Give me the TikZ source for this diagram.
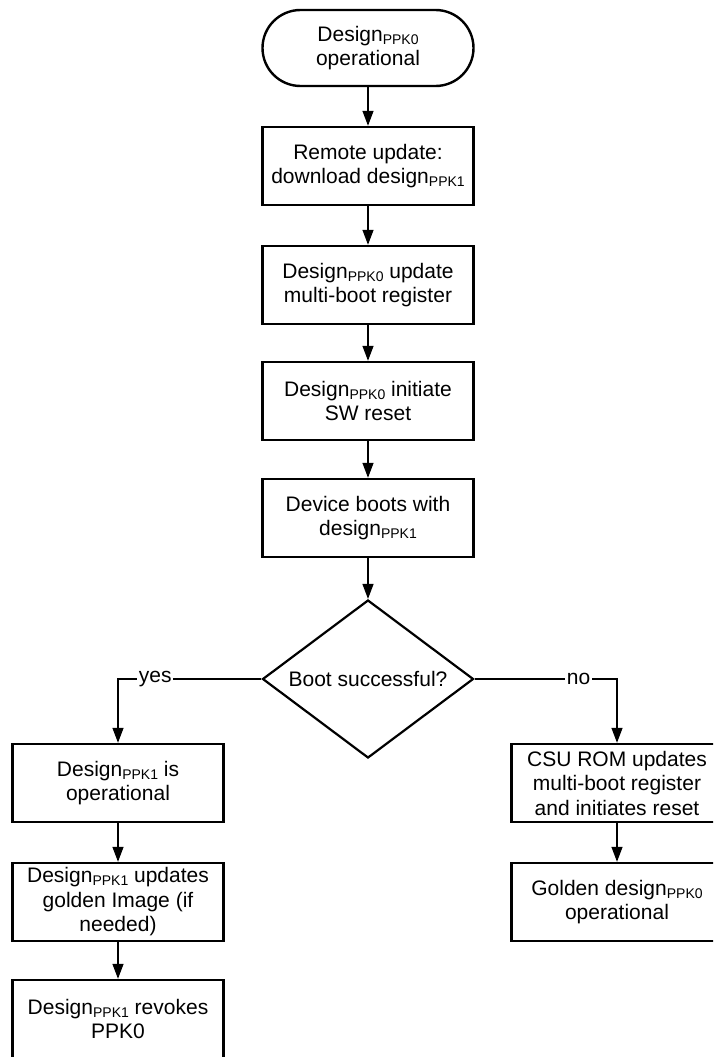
\documentclass[tikz,border=0pt]{standalone}
\usepackage{fontspec}
\setmainfont{Liberation Sans}
\usetikzlibrary{shapes.geometric,arrows.meta}
\newcommand{\ppk}[1]{\raisebox{-3pt}{\fontsize{14}{14}\selectfont PPK#1}}
\begin{document}
\begin{tikzpicture}[x=1pt,y=-1pt,
  txt/.style={font=\fontsize{21}{24.5}\selectfont},
  box/.style={txt,draw,line width=2.4pt,minimum width=211pt,minimum height=78pt,inner sep=0pt,align=center},
  term/.style={box,rounded corners=38pt,minimum height=76pt},
  dec/.style={txt,draw,diamond,line width=2.2pt,aspect=1.335,minimum width=211pt,minimum height=158pt,inner sep=0pt},
  arr/.style={-{Triangle[length=15pt,width=11pt]},line width=1.3pt},
  lbl/.style={txt,fill=white,inner sep=1.5pt}]
\useasboundingbox (0,0) rectangle (713,1057);
\clip (0,0) rectangle (713,1057);
\node[term] (t) at (368,48) {Design\ppk{0}\\operational};
\node[box] (b1) at (368,166) {Remote update:\\download design\ppk{1}};
\node[box] (b2) at (368,285) {Design\ppk{0} update\\multi-boot register};
\node[box] (b3) at (368,401) {Design\ppk{0} initiate\\SW reset};
\node[box] (b4) at (368,518) {Device boots with\\design\ppk{1}};
\node[dec] (d) at (368,679) {Boot successful?};
\node[box] (l1) at (118,783) {Design\ppk{1} is\\operational};
\node[box] (l2) at (118,902) {Design\ppk{1} updates\\golden Image (if\\needed)};
\node[box] (l3) at (118,1019) {Design\ppk{1} revokes\\PPK0};
\node[box] (r1) at (617,783) {CSU ROM updates\\multi-boot register\\and initiates reset};
\node[box] (r2) at (617,902) {Golden design\ppk{0}\\operational};
\draw[arr] (t) -- (b1);
\draw[arr] (b1) -- (b2);
\draw[arr] (b2) -- (b3);
\draw[arr] (b3) -- (b4);
\draw[arr] (b4) -- (d);
\draw[arr] (d.west) -| node[lbl,pos=0.37] {yes} (l1.north);
\draw[arr] (d.east) -| node[lbl,pos=0.365] {no} (r1.north);
\draw[arr] (l1) -- (l2);
\draw[arr] (l2) -- (l3);
\draw[arr] (r1) -- (r2);
\end{tikzpicture}
\end{document}
